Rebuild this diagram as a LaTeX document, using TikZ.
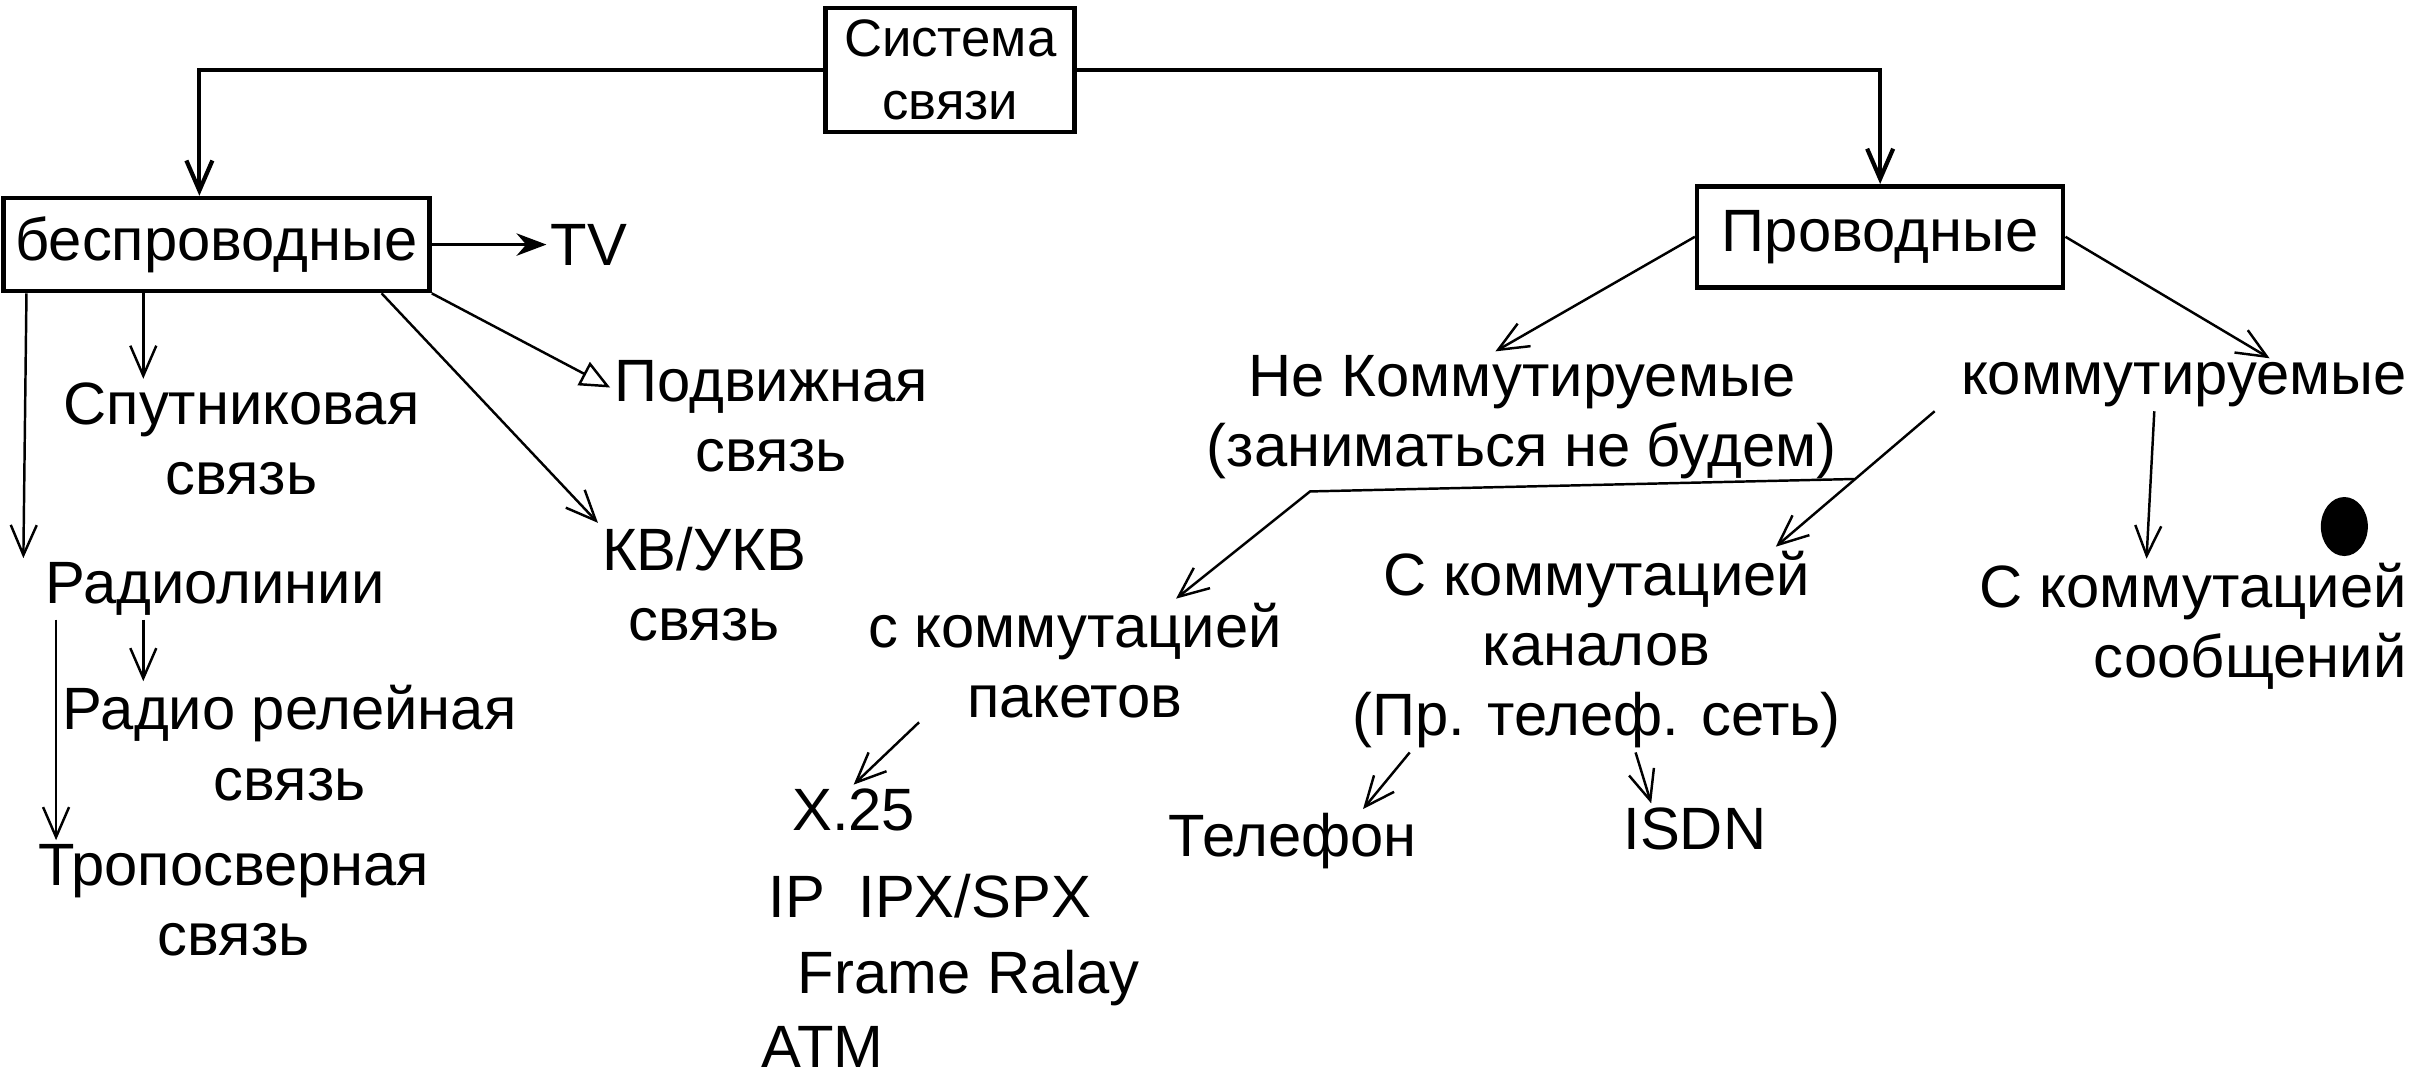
\documentclass[tikz,border=0pt]{standalone}
\usepackage{fontspec}
\setmainfont{Liberation Sans}
\usetikzlibrary{positioning,arrows.meta,shapes.geometric}

\begin{document}
\begin{tikzpicture}[x=0.015577cm,y=-0.015577cm,
	box/.style={draw,line width=1.3pt,align=center,font=\fontsize{17}{21}\selectfont},
	lbl/.style={align=center,font=\fontsize{17}{20}\selectfont,inner sep=1pt},
	arr/.style={-{Straight Barb[length=3mm,width=2.6mm]},line width=0.7pt},
	conn/.style={arr,line width=1.2pt}]
	
	\useasboundingbox (0,0) rectangle (1560,693);
	
	\node[box, minimum width=2.49cm, minimum height=1.15cm, font=\fontsize{15}{18}\selectfont](sys) at (610,45){Система\\связи};
	\node[box, minimum width=4.24cm, minimum height=0.93cm](wl) at (139,157){беспроводные};
	\node[box, minimum width=3.66cm, minimum height=1.01cm](wd) at (1207,152){Проводные};
	
	\node[lbl](tv) at (378,157){TV};
	\node[lbl](mob) at (495,267){Подвижная\\связь};
	\node[lbl](kv) at (452,375){КВ/УКВ\\связь};
	\node[lbl](sat) at (155,282){Спутниковая\\связь};
	\node[lbl](rad) at (138,378){Радиолинии};
	\node[lbl](rel) at (186,477){Радио релейная\\связь};
	\node[lbl](tro) at (150,578){Тропосверная\\связь};
	
	\node[lbl](nk) at (977,268){Не Коммутируемые\\(заниматься не будем)};
	\node[lbl](kom) at (1402,247){коммутируемые};
	\node[lbl](pak) at (690,424){с коммутацией\\пакетов};
	\node[lbl](chan) at (1025,417){С коммутацией\\каналов\\(Пр. телеф. сеть)};
	\node[lbl, align=right](msg) at (1408,402){С коммутацией\\сообщений};
	\node[fill, ellipse, minimum width=0.47cm, minimum height=0.59cm](dot) at (1505,338){};
	
	\node[lbl](x25) at (548,520){X.25};
	\node[lbl](ip) at (597,575){IP\ \ IPX/SPX};
	\node[lbl](fr) at (622,628){Frame Ralay};
	\node[lbl](atm) at (528,672){ATM};
	\node[lbl](tel) at (830,540){Телефон};
	\node[lbl](isdn) at (1088,532){ISDN};
	
	% system
	\draw[conn] (sys.west) -| (wl.north -| 128,0);
	\draw[conn] (sys.east) -| (wd.north);
	
	% wireless
	\draw[arr, -{Stealth[length=3mm]}] (wl.east) -- (tv.west);
	\draw[arr, -{Triangle[open,length=3mm,width=2.6mm]}] (wl.south east) -- (mob.170);
	\draw[arr] (wl.south east -| 245,0) -- (kv.north west);
	\draw[arr] (wl.south -| 92,0) -- (sat.north -| 92,0);
	\draw[arr] (wl.south -| 17,0) -- (rad.north -| 15,0);
	\draw[arr] (rad.south -| 92,0) -- (rel.north -| 92,0);
	\draw[arr] (rad.south -| 36,0) -- (tro.north -| 36,0);
	
	% wired
	\draw[arr] (wd.west) -- (nk.north -| 960,0);
	\draw[arr] (wd.east) -- (kom.north -| 1457,0);
	\draw[arr] (kom.south -| 1242,0) -- coordinate[pos=0.5](br) (chan.north -| 1140,0);
	\draw[arr] (br) -- ++(-350,8) -- (pak.north -| 755,0);
	\draw[arr] (kom.south -| 1383,0) -- (msg.north -| 1378,0);
	
	\draw[arr] (pak.south -| 590,0) -- (x25.north);
	\draw[arr] (chan.south -| 905,0) -- (tel.north -| 875,0);
	\draw[arr] (chan.south -| 1050,0) -- (isdn.north -| 1060,0);
\end{tikzpicture}
\end{document}
